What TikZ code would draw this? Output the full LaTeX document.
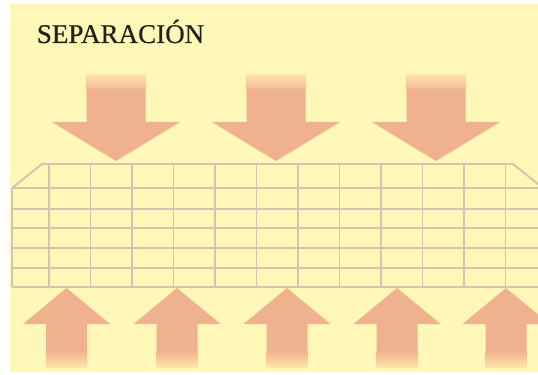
\documentclass[tikz,border=0pt]{standalone}
\usepackage{fontspec}
\setmainfont{Liberation Serif}
\newfontfamily\titlefont[FakeBold=0.5]{Liberation Serif}
\definecolor{bgyellow}{RGB}{255,247,183}
\definecolor{arrowfill}{RGB}{240,178,142}
\definecolor{arrowlight}{RGB}{255,228,172}
\definecolor{gridline}{RGB}{214,194,174}
\definecolor{titletext}{RGB}{36,32,28}
\tikzset{
	gridstroke/.style={draw=gridline, line width=1.1pt},
}
\begin{document}
\begin{tikzpicture}[x=0.02cm, y=-0.02cm]
			\useasboundingbox (0,0) rectangle (538,375);
			\fill[white] (0,0) rectangle (538,375);
			\fill[bgyellow] (10,4) rectangle (538,372);
			\node[anchor=base west, inner sep=0pt, text=titletext, font=\titlefont\fontsize{15.4}{18}\selectfont] (title) at (36.5,43) {SEPARACIÓN};
			% pressure from above
			\foreach \cx in {116,276,436} {
				\fill[arrowfill] (\cx-29.5,75) -- (\cx+29.5,75) -- (\cx+29.5,122) -- (\cx+64,122) -- (\cx,161) -- (\cx-64,122) -- (\cx-29.5,122) -- cycle;
				\shade[top color=arrowlight, bottom color=arrowfill] (\cx-29.5,75) rectangle (\cx+29.5,91);
			}
			% the mesh
			\draw[gridstroke] (12,188) -- (42,164) -- (513,164) -- (543,188);
			\foreach \gy in {188,209,228,248,268,287} {
				\draw[gridstroke] (12,\gy) -- (543,\gy);
			}
			\draw[gridstroke] (12,188) -- (12,287);
			\draw[gridstroke] (543,188) -- (543,287);
			\foreach \i in {0,...,11} {
				\draw[gridstroke] (49+41.5*\i,164) -- (49+41.5*\i,287);
			}
			% pressure from below
			\foreach \cx in {66.5,177,287,397,506} {
				\fill[arrowfill] (\cx-20.5,367) -- (\cx-20.5,324) -- (\cx-43.5,324) -- (\cx,288) -- (\cx+43.5,324) -- (\cx+20.5,324) -- (\cx+20.5,367) -- cycle;
				\shade[top color=arrowfill, bottom color=arrowlight] (\cx-20.5,351) rectangle (\cx+20.5,367);
			}
\end{tikzpicture}
\end{document}
